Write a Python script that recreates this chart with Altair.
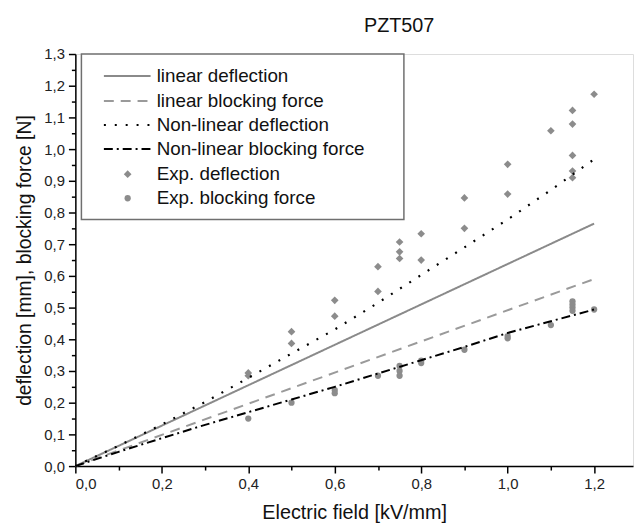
import altair as alt
import pandas as pd

FONT = "Liberation Sans"

# Experimental deflection (mm)
def_x = [0.4, 0.4, 0.5, 0.5, 0.6, 0.6, 0.7, 0.7, 0.75, 0.75, 0.75, 0.8, 0.8,
         0.9, 0.9, 1.0, 1.0, 1.1, 1.15, 1.15, 1.15, 1.15, 1.15, 1.2]
def_y = [0.294, 0.285, 0.424, 0.387, 0.523, 0.473, 0.629, 0.551, 0.707, 0.676, 0.655, 0.733, 0.65,
         0.846, 0.75, 0.952, 0.858, 1.058, 1.122, 1.079, 0.98, 0.931, 0.91, 1.173]

# Experimental blocking force (N)
blk_x = [0.4, 0.5, 0.6, 0.6, 0.7, 0.75, 0.75, 0.75, 0.8, 0.8, 0.9, 1.0, 1.0,
         1.1, 1.15, 1.15, 1.15, 1.15, 1.2]
blk_y = [0.15, 0.2, 0.24, 0.23, 0.285, 0.316, 0.30, 0.285, 0.333, 0.325, 0.367, 0.41, 0.403,
         0.445, 0.52, 0.51, 0.50, 0.49, 0.494]

# Model curves
lin_x = [0.0, 1.2]
lin_def = [0.0, 0.765]
lin_blk = [0.0, 0.59]
nl_x = [0.0, 0.1, 0.2, 0.3, 0.4, 0.5, 0.6, 0.7, 0.8, 0.9, 1.0, 1.1, 1.2]
nl_def = [0.0, 0.064, 0.131, 0.202, 0.278, 0.355, 0.431, 0.515, 0.603, 0.69, 0.778, 0.871, 0.968]
nl_blk = [0.0, 0.045, 0.088, 0.13, 0.17, 0.21, 0.25, 0.292, 0.334, 0.376, 0.42, 0.457, 0.494]

legend_labels = ["linear deflection", "linear blocking force", "Non-linear deflection",
                 "Non-linear blocking force", "Exp. deflection", "Exp. blocking force"]
legend_rows = [1.231, 1.152, 1.076, 1.0, 0.921, 0.845]

title_text = ["PZT507"]
title_pos = [0.749, 1.369]

x_major = [0.0, 0.2, 0.4, 0.6, 0.8, 1.0, 1.2]
x_minor = [0.1, 0.3, 0.5, 0.7, 0.9, 1.1]
y_major = [round(i * 0.1, 1) for i in range(14)]
y_minor = [round(0.05 + i * 0.1, 2) for i in range(13)]

XD = [0, 1.29]
YD = [0, 1.3]
LBL = "replace(format(datum.value, '.1f'), '.', ',')"

xs = alt.Scale(domain=XD, nice=False, zero=False)
ys = alt.Scale(domain=YD, nice=False, zero=False)

def X(field, axis=None):
    if axis is None:
        return alt.X(field, type="quantitative", scale=xs, axis=None)
    return alt.X(field, type="quantitative", scale=xs, axis=axis)

def Y(field, axis=None):
    if axis is None:
        return alt.Y(field, type="quantitative", scale=ys, axis=None)
    return alt.Y(field, type="quantitative", scale=ys, axis=axis)

axis_common = dict(domainColor="black", domainWidth=1.5, tickColor="black", tickWidth=1.5,
                   labelFont=FONT, labelFontSize=15, labelColor="#222222", grid=False,
                   titleFont=FONT, titleFontWeight="normal", titleColor="#111111")

x_axis_major = alt.Axis(values=x_major, labelExpr=LBL, tickSize=7, labelPadding=4,
                        title="Electric field [kV/mm]", titlePadding=11, titleFontSize=20,
                        orient="bottom", **axis_common)
y_axis_major = alt.Axis(values=y_major, labelExpr=LBL, tickSize=7, labelPadding=4,
                        title="deflection [mm], blocking force [N]", titlePadding=9, titleFontSize=19.5,
                        orient="left", **axis_common)
x_axis_minor = alt.Axis(values=x_minor, labels=False, tickSize=4, domain=False, title="",
                        orient="bottom", grid=False, tickColor="black", tickWidth=1.5)
y_axis_minor = alt.Axis(values=y_minor, labels=False, tickSize=4, domain=False, title="",
                        orient="left", grid=False, tickColor="black", tickWidth=1.5)

df_def = pd.DataFrame({"x": def_x, "y": def_y})
df_blk = pd.DataFrame({"x": blk_x, "y": blk_y})

pts_def = alt.Chart(df_def).mark_point(shape="diamond", filled=True, size=60, color="#8c8c8c", opacity=1).encode(
    x=X("x", x_axis_major), y=Y("y", y_axis_major))
pts_blk = alt.Chart(df_blk).mark_point(shape="circle", filled=True, size=40, color="#8c8c8c", opacity=1).encode(
    x=X("x", x_axis_minor), y=Y("y", y_axis_minor))

styles = [
    ("lin_def", lin_x, lin_def, "#8a8a8a", [1, 0], 2),
    ("lin_blk", lin_x, lin_blk, "#9a9a9a", [10, 7], 2),
    ("nl_def", nl_x, nl_def, "#000000", [2, 9], 2.2),
    ("nl_blk", nl_x, nl_blk, "#000000", [9, 4, 2, 4], 2),
]

curve_layers = []
legend_line_layers = []
for i, (name, cx, cy, col, dash, w) in enumerate(styles):
    d = pd.DataFrame({"x": cx, "y": cy})
    curve_layers.append(
        alt.Chart(d).mark_line(color=col, strokeDash=dash, strokeWidth=w).encode(x=X("x"), y=Y("y"))
    )
    ld = pd.DataFrame({"x": [0.066, 0.174], "y": [legend_rows[i], legend_rows[i]]})
    legend_line_layers.append(
        alt.Chart(ld).mark_line(color=col, strokeDash=dash, strokeWidth=w).encode(x=X("x"), y=Y("y"))
    )

box = alt.Chart(pd.DataFrame({"x": [0.014], "x2": [0.76], "y": [0.778], "y2": [1.3]})).mark_rect(
    fill="white", stroke="#6f6f6f", strokeWidth=1.5).encode(
    x=X("x"), x2="x2", y=Y("y"), y2="y2")

leg_pts = alt.Chart(pd.DataFrame({"x": [0.121], "y": [legend_rows[4]]})).mark_point(
    shape="diamond", filled=True, size=60, color="#8c8c8c", opacity=1).encode(x=X("x"), y=Y("y"))
leg_pts2 = alt.Chart(pd.DataFrame({"x": [0.121], "y": [legend_rows[5]]})).mark_point(
    shape="circle", filled=True, size=40, color="#8c8c8c", opacity=1).encode(x=X("x"), y=Y("y"))

leg_text = alt.Chart(pd.DataFrame({"x": [0.188] * 6, "y": legend_rows, "t": legend_labels})).mark_text(
    align="left", baseline="middle", font=FONT, fontSize=19, color="#111111").encode(
    x=X("x"), y=Y("y"), text="t:N")

title_mark = alt.Chart(pd.DataFrame({"x": [title_pos[0]], "y": [title_pos[1]], "t": title_text})).mark_text(
    align="center", baseline="alphabetic", font=FONT, fontSize=20, color="#111111").encode(
    x=X("x"), y=Y("y"), text="t:N")

chart = alt.layer(
    pts_def, pts_blk, box, *curve_layers, *legend_line_layers, leg_pts, leg_pts2, leg_text, title_mark
).resolve_axis(x="independent", y="independent").properties(
    width=563, height=416,
    autosize=alt.AutoSizeParams(type="none"),
    padding={"left": 68, "top": 44, "right": 2, "bottom": 55},
).configure_view(strokeWidth=0).configure(background="white")

chart.save("out.html", embed_options={"renderer": "svg", "actions": False})
